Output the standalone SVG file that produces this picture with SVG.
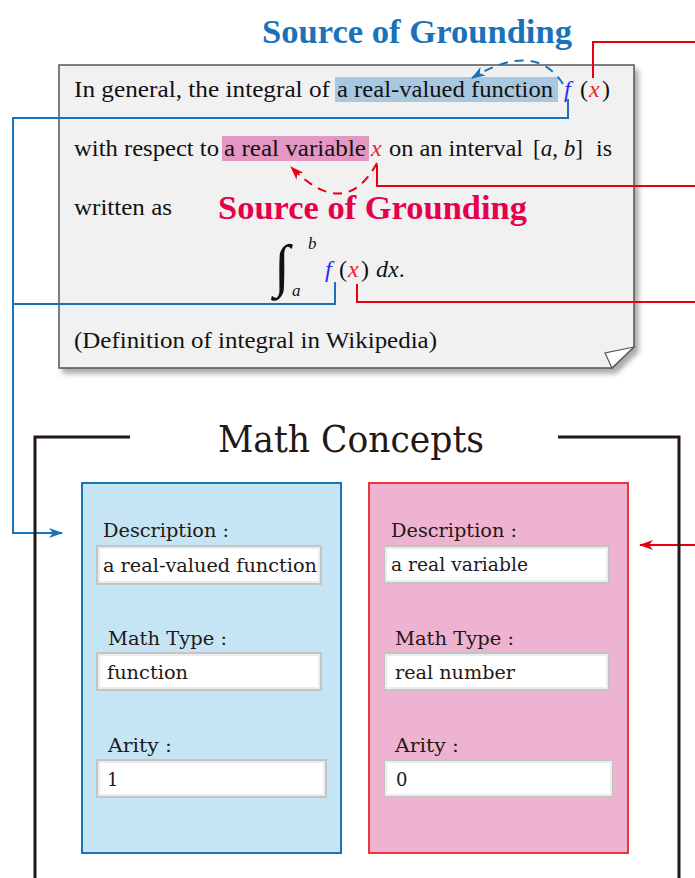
<svg xmlns="http://www.w3.org/2000/svg" width="695" height="878" viewBox="0 0 695 878">
<defs>
<style>
.t{font-family:"Liberation Serif","Times New Roman",serif;font-size:24px;fill:#111}
.i{font-style:italic}
.fb{fill:#2a2aff}
.fr{fill:#ee1c25}
.c{font-family:"DejaVu Serif","Liberation Serif",serif;fill:#231815}
.lab{font-size:18px}
.val{font-size:18px}
.sog{font-family:"Liberation Serif","Times New Roman",serif;font-weight:bold;font-size:34px}
.blue{stroke:#1a72b9;fill:none;stroke-width:2}
.red{stroke:#e60012;fill:none;stroke-width:2}
.field{fill:#fff;stroke:#c4c4c4;stroke-width:2}
.fieldin{fill:none;stroke:#ececec;stroke-width:2}
</style>
<filter id="sh" x="-5%" y="-5%" width="115%" height="120%">
<feDropShadow dx="4" dy="5" stdDeviation="2.5" flood-color="#666" flood-opacity="0.55"/>
</filter>
<marker id="ab" markerWidth="14" markerHeight="10" refX="13" refY="5" orient="auto" markerUnits="userSpaceOnUse">
<path d="M0,0 L14,5 L0,10 L4,5 z" fill="#1a72b9"/>
</marker>
<marker id="ar" markerWidth="14" markerHeight="10" refX="13" refY="5" orient="auto" markerUnits="userSpaceOnUse">
<path d="M0,0 L14,5 L0,10 L4,5 z" fill="#e60012"/>
</marker>
</defs>

<g id="note">
<path d="M59,65 H634 V347 L612,368 H59 Z" fill="#f1f1f1" stroke="#555" stroke-width="1.5" filter="url(#sh)"/>
<path d="M634,347 L605,353 L612,368 Z" fill="#fff" stroke="#555" stroke-width="1.2"/>
<rect x="335" y="77" width="223" height="25" fill="#a8c8e1"/>
<rect x="222" y="136" width="147" height="25" fill="#e597c4"/>
<text class="t" x="74" y="97" textLength="256" lengthAdjust="spacingAndGlyphs">In general, the integral of</text>
<text class="t" x="337" y="97" textLength="216" lengthAdjust="spacingAndGlyphs">a real-valued function</text>
<text class="t i fb" x="564" y="97">f</text>
<text class="t" x="580" y="97">(</text>
<text class="t i fr" x="589" y="97">x</text>
<text class="t" x="602" y="97">)</text>
<text class="t" x="74" y="156" textLength="145" lengthAdjust="spacingAndGlyphs">with respect to</text>
<text class="t" x="224" y="156" textLength="142" lengthAdjust="spacingAndGlyphs">a real variable</text>
<text class="t i fr" x="371" y="156">x</text>
<text class="t" x="389" y="156" textLength="134" lengthAdjust="spacingAndGlyphs">on an interval</text>
<text class="t" x="533" y="156" textLength="50" lengthAdjust="spacingAndGlyphs">[<tspan class="i">a</tspan>, <tspan class="i">b</tspan>]</text>
<text class="t" x="596" y="156">is</text>
<text class="t" x="74" y="215" textLength="98" lengthAdjust="spacingAndGlyphs">written as</text>
<text class="t i" x="274" y="285" style="font-size:58px;font-weight:300">∫</text>
<text class="t i" x="308" y="249" style="font-size:17px">b</text>
<text class="t i" x="292" y="296" style="font-size:17px">a</text>
<text class="t i fb" x="325" y="277">f</text>
<text class="t" x="339" y="277">(</text>
<text class="t i fr" x="348" y="277">x</text>
<text class="t" x="361" y="277">)</text>
<text class="t i" x="376" y="277">dx<tspan font-style="normal">.</tspan></text>
<text class="t" x="74" y="348" textLength="363" lengthAdjust="spacingAndGlyphs">(Definition of integral in Wikipedia)</text>
</g>

<g id="source-blue">
<text class="sog" x="262" y="43" fill="#1a72b9" textLength="310" lengthAdjust="spacingAndGlyphs">Source of Grounding</text>
</g>
<g id="source-red">
<text class="sog" x="218" y="219" fill="#e6004c" textLength="309" lengthAdjust="spacingAndGlyphs">Source of Grounding</text>
</g>

<g id="connectors">
<path class="blue" d="M563,84 Q535,40 472,78" stroke-dasharray="9,7" marker-end="url(#ab)"/>
<path class="red" d="M377,163 Q345,222 291,167" stroke-dasharray="9,7" marker-end="url(#ar)"/>
<path class="blue" d="M568,99 V118 H13 V533 H62" marker-end="url(#ab)"/>
<path class="blue" d="M335,282 V304 H13"/>
<path class="red" d="M593,78 V42 H695"/>
<path class="red" d="M377,165 V186 H695"/>
<path class="red" d="M357,284 V302 H695"/>
<path class="red" d="M695,545 H640" marker-end="url(#ar)"/>
</g>

<g id="math-concepts">
<path d="M130,437 H35 V878" fill="none" stroke="#231815" stroke-width="3"/>
<path d="M558,437 H679 V878" fill="none" stroke="#231815" stroke-width="3"/>
<text class="c" x="218" y="452" style="font-size:38px" textLength="266" lengthAdjust="spacingAndGlyphs">Math Concepts</text>
</g>

<g id="concept-function">
<rect x="82" y="483" width="259" height="370" fill="#c5e5f5" stroke="#1a72b9" stroke-width="2"/>
<text class="c lab" x="103" y="537" textLength="126" lengthAdjust="spacingAndGlyphs">Description :</text>
<rect class="field" x="97" y="546" width="224" height="38"/>
<rect class="fieldin" x="99" y="548" width="220" height="34"/>
<text class="c val" x="103" y="572" textLength="214" lengthAdjust="spacingAndGlyphs">a real-valued function</text>
<text class="c lab" x="108" y="645" textLength="119" lengthAdjust="spacingAndGlyphs">Math Type :</text>
<rect class="field" x="97" y="653" width="224" height="37"/>
<rect class="fieldin" x="99" y="655" width="220" height="33"/>
<text class="c val" x="107" y="679" textLength="81" lengthAdjust="spacingAndGlyphs">function</text>
<text class="c lab" x="108" y="752" textLength="64" lengthAdjust="spacingAndGlyphs">Arity :</text>
<rect class="field" x="97" y="760" width="229" height="37"/>
<rect class="fieldin" x="99" y="762" width="225" height="33"/>
<text class="c val" x="107" y="786">1</text>
</g>

<g id="concept-variable">
<rect x="369" y="483" width="259" height="370" fill="#eeb3d1" stroke="#e8383d" stroke-width="2"/>
<text class="c lab" x="391" y="537" textLength="126" lengthAdjust="spacingAndGlyphs">Description :</text>
<rect class="field" x="384" y="546" width="225" height="37"/>
<rect class="fieldin" x="386" y="548" width="221" height="33"/>
<text class="c val" x="391" y="571" textLength="137" lengthAdjust="spacingAndGlyphs">a real variable</text>
<text class="c lab" x="395" y="645" textLength="119" lengthAdjust="spacingAndGlyphs">Math Type :</text>
<rect class="field" x="384" y="653" width="225" height="37"/>
<rect class="fieldin" x="386" y="655" width="221" height="33"/>
<text class="c val" x="395" y="679" textLength="120" lengthAdjust="spacingAndGlyphs">real number</text>
<text class="c lab" x="395" y="752" textLength="64" lengthAdjust="spacingAndGlyphs">Arity :</text>
<rect class="field" x="384" y="760" width="229" height="37"/>
<rect class="fieldin" x="386" y="762" width="225" height="33"/>
<text class="c val" x="396" y="786">0</text>
</g>
</svg>
